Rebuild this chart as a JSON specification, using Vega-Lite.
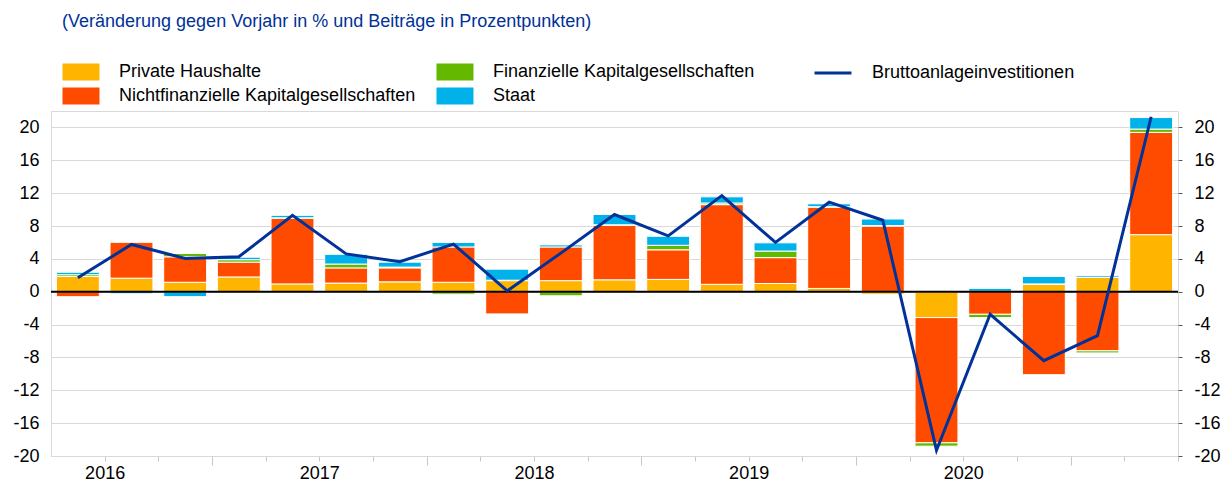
{
  "$schema": "https://vega.github.io/schema/vega-lite/v6.json",
  "width": 1127,
  "height": 345,
  "autosize": {"type": "none"},
  "padding": {"left": 51, "top": 111, "right": 48, "bottom": 25},
  "background": "white",
  "config": {
    "font": "Liberation Sans",
    "view": {"stroke": "#d9d9d9", "strokeWidth": 1},
    "axis": {"labelFont": "Liberation Sans", "labelFontSize": 18, "labelColor": "#000000"},
    "legend": {"labelFont": "Liberation Sans", "labelFontSize": 18, "labelColor": "#000000", "labelLimit": 0}
  },
  "title": {
    "text": "(Veränderung gegen Vorjahr in % und Beiträge in Prozentpunkten)",
    "anchor": "start",
    "frame": "group",
    "font": "Liberation Sans",
    "fontSize": 18,
    "fontWeight": "normal",
    "color": "#003299",
    "dx": 11,
    "offset": 32
  },
  "datasets": {
    "bars": [
      {"q": "2016 Q2", "cat": "Private Haushalte", "v": 1.85},
      {"q": "2016 Q2", "cat": "Nichtfinanzielle Kapitalgesellschaften", "v": -0.6},
      {"q": "2016 Q2", "cat": "Finanzielle Kapitalgesellschaften", "v": 0.22},
      {"q": "2016 Q2", "cat": "Staat", "v": 0.3},
      {"q": "2016 Q3", "cat": "Private Haushalte", "v": 1.65},
      {"q": "2016 Q3", "cat": "Nichtfinanzielle Kapitalgesellschaften", "v": 4.4},
      {"q": "2016 Q3", "cat": "Finanzielle Kapitalgesellschaften", "v": 0.0},
      {"q": "2016 Q3", "cat": "Staat", "v": -0.25},
      {"q": "2016 Q4", "cat": "Private Haushalte", "v": 1.15},
      {"q": "2016 Q4", "cat": "Nichtfinanzielle Kapitalgesellschaften", "v": 3.1},
      {"q": "2016 Q4", "cat": "Finanzielle Kapitalgesellschaften", "v": 0.4},
      {"q": "2016 Q4", "cat": "Staat", "v": -0.6},
      {"q": "2017 Q1", "cat": "Private Haushalte", "v": 1.8},
      {"q": "2017 Q1", "cat": "Nichtfinanzielle Kapitalgesellschaften", "v": 1.8},
      {"q": "2017 Q1", "cat": "Finanzielle Kapitalgesellschaften", "v": 0.3},
      {"q": "2017 Q1", "cat": "Staat", "v": 0.3},
      {"q": "2017 Q2", "cat": "Private Haushalte", "v": 0.95},
      {"q": "2017 Q2", "cat": "Nichtfinanzielle Kapitalgesellschaften", "v": 8.0},
      {"q": "2017 Q2", "cat": "Finanzielle Kapitalgesellschaften", "v": 0.05},
      {"q": "2017 Q2", "cat": "Staat", "v": 0.3},
      {"q": "2017 Q3", "cat": "Private Haushalte", "v": 1.05},
      {"q": "2017 Q3", "cat": "Nichtfinanzielle Kapitalgesellschaften", "v": 1.85},
      {"q": "2017 Q3", "cat": "Finanzielle Kapitalgesellschaften", "v": 0.47},
      {"q": "2017 Q3", "cat": "Staat", "v": 1.18},
      {"q": "2017 Q4", "cat": "Private Haushalte", "v": 1.2},
      {"q": "2017 Q4", "cat": "Nichtfinanzielle Kapitalgesellschaften", "v": 1.7},
      {"q": "2017 Q4", "cat": "Finanzielle Kapitalgesellschaften", "v": 0.1},
      {"q": "2017 Q4", "cat": "Staat", "v": 0.6},
      {"q": "2018 Q1", "cat": "Private Haushalte", "v": 1.15},
      {"q": "2018 Q1", "cat": "Nichtfinanzielle Kapitalgesellschaften", "v": 4.3},
      {"q": "2018 Q1", "cat": "Finanzielle Kapitalgesellschaften", "v": -0.3},
      {"q": "2018 Q1", "cat": "Staat", "v": 0.55},
      {"q": "2018 Q2", "cat": "Private Haushalte", "v": 1.35},
      {"q": "2018 Q2", "cat": "Nichtfinanzielle Kapitalgesellschaften", "v": -2.7},
      {"q": "2018 Q2", "cat": "Finanzielle Kapitalgesellschaften", "v": 0.05},
      {"q": "2018 Q2", "cat": "Staat", "v": 1.35},
      {"q": "2018 Q3", "cat": "Private Haushalte", "v": 1.35},
      {"q": "2018 Q3", "cat": "Nichtfinanzielle Kapitalgesellschaften", "v": 4.1},
      {"q": "2018 Q3", "cat": "Finanzielle Kapitalgesellschaften", "v": -0.5},
      {"q": "2018 Q3", "cat": "Staat", "v": 0.25},
      {"q": "2018 Q4", "cat": "Private Haushalte", "v": 1.45},
      {"q": "2018 Q4", "cat": "Nichtfinanzielle Kapitalgesellschaften", "v": 6.65},
      {"q": "2018 Q4", "cat": "Finanzielle Kapitalgesellschaften", "v": 0.05},
      {"q": "2018 Q4", "cat": "Staat", "v": 1.25},
      {"q": "2019 Q1", "cat": "Private Haushalte", "v": 1.5},
      {"q": "2019 Q1", "cat": "Nichtfinanzielle Kapitalgesellschaften", "v": 3.6},
      {"q": "2019 Q1", "cat": "Finanzielle Kapitalgesellschaften", "v": 0.55},
      {"q": "2019 Q1", "cat": "Staat", "v": 1.1},
      {"q": "2019 Q2", "cat": "Private Haushalte", "v": 0.9},
      {"q": "2019 Q2", "cat": "Nichtfinanzielle Kapitalgesellschaften", "v": 9.7},
      {"q": "2019 Q2", "cat": "Finanzielle Kapitalgesellschaften", "v": 0.2},
      {"q": "2019 Q2", "cat": "Staat", "v": 0.75},
      {"q": "2019 Q3", "cat": "Private Haushalte", "v": 1.0},
      {"q": "2019 Q3", "cat": "Nichtfinanzielle Kapitalgesellschaften", "v": 3.15},
      {"q": "2019 Q3", "cat": "Finanzielle Kapitalgesellschaften", "v": 0.8},
      {"q": "2019 Q3", "cat": "Staat", "v": 1.0},
      {"q": "2019 Q4", "cat": "Private Haushalte", "v": 0.4},
      {"q": "2019 Q4", "cat": "Nichtfinanzielle Kapitalgesellschaften", "v": 9.9},
      {"q": "2019 Q4", "cat": "Finanzielle Kapitalgesellschaften", "v": 0.05},
      {"q": "2019 Q4", "cat": "Staat", "v": 0.35},
      {"q": "2020 Q1", "cat": "Private Haushalte", "v": -0.3},
      {"q": "2020 Q1", "cat": "Nichtfinanzielle Kapitalgesellschaften", "v": 8.0},
      {"q": "2020 Q1", "cat": "Finanzielle Kapitalgesellschaften", "v": 0.05},
      {"q": "2020 Q1", "cat": "Staat", "v": 0.8},
      {"q": "2020 Q2", "cat": "Private Haushalte", "v": -3.15},
      {"q": "2020 Q2", "cat": "Nichtfinanzielle Kapitalgesellschaften", "v": -15.25},
      {"q": "2020 Q2", "cat": "Finanzielle Kapitalgesellschaften", "v": -0.4},
      {"q": "2020 Q2", "cat": "Staat", "v": 0.0},
      {"q": "2020 Q3", "cat": "Private Haushalte", "v": 0.05},
      {"q": "2020 Q3", "cat": "Nichtfinanzielle Kapitalgesellschaften", "v": -2.75},
      {"q": "2020 Q3", "cat": "Finanzielle Kapitalgesellschaften", "v": -0.4},
      {"q": "2020 Q3", "cat": "Staat", "v": 0.35},
      {"q": "2020 Q4", "cat": "Private Haushalte", "v": 0.9},
      {"q": "2020 Q4", "cat": "Nichtfinanzielle Kapitalgesellschaften", "v": -10.1},
      {"q": "2020 Q4", "cat": "Finanzielle Kapitalgesellschaften", "v": 0.05},
      {"q": "2020 Q4", "cat": "Staat", "v": 0.9},
      {"q": "2021 Q1", "cat": "Private Haushalte", "v": 1.75},
      {"q": "2021 Q1", "cat": "Nichtfinanzielle Kapitalgesellschaften", "v": -7.2},
      {"q": "2021 Q1", "cat": "Finanzielle Kapitalgesellschaften", "v": -0.25},
      {"q": "2021 Q1", "cat": "Staat", "v": 0.2},
      {"q": "2021 Q2", "cat": "Private Haushalte", "v": 6.95},
      {"q": "2021 Q2", "cat": "Nichtfinanzielle Kapitalgesellschaften", "v": 12.45},
      {"q": "2021 Q2", "cat": "Finanzielle Kapitalgesellschaften", "v": 0.4},
      {"q": "2021 Q2", "cat": "Staat", "v": 1.4}
    ],
    "line": [
      {"q": "2016 Q2", "total": 1.7},
      {"q": "2016 Q3", "total": 5.75},
      {"q": "2016 Q4", "total": 4.05},
      {"q": "2017 Q1", "total": 4.25},
      {"q": "2017 Q2", "total": 9.3},
      {"q": "2017 Q3", "total": 4.6},
      {"q": "2017 Q4", "total": 3.65},
      {"q": "2018 Q1", "total": 5.8},
      {"q": "2018 Q2", "total": 0.1},
      {"q": "2018 Q3", "total": 4.7},
      {"q": "2018 Q4", "total": 9.4},
      {"q": "2019 Q1", "total": 6.8},
      {"q": "2019 Q2", "total": 11.7},
      {"q": "2019 Q3", "total": 6.0},
      {"q": "2019 Q4", "total": 10.9},
      {"q": "2020 Q1", "total": 8.7},
      {"q": "2020 Q2", "total": -19.3},
      {"q": "2020 Q3", "total": -2.75},
      {"q": "2020 Q4", "total": -8.4},
      {"q": "2021 Q1", "total": -5.35},
      {"q": "2021 Q2", "total": 21.3}
    ]
  },
  "layer": [
    {
      "data": {"name": "bars"},
      "transform": [
        {"calculate": "indexof(['Private Haushalte','Nichtfinanzielle Kapitalgesellschaften','Finanzielle Kapitalgesellschaften','Staat'], datum.cat)", "as": "ord"}
      ],
      "mark": {"type": "bar", "stroke": "white", "strokeWidth": 1},
      "encoding": {
        "x": {
          "field": "q", "type": "ordinal", "sort": null,
          "scale": {"type": "band", "paddingInner": 0.2, "paddingOuter": 0.1},
          "axis": {
            "orient": "bottom", "title": null, "tickSize": 5, "tickOffset": 26.8,
            "tickColor": "#c8c8c8", "domainColor": "#d9d9d9", "labelAngle": 0,
            "labelOverlap": false, "labelPadding": 3, "grid": false,
            "labelExpr": "slice(datum.value, 5) == 'Q2' && datum.value != '2021 Q2' ? slice(datum.value, 0, 4) : ''"
          }
        },
        "y": {
          "field": "v", "type": "quantitative", "stack": "zero",
          "scale": {"domain": [-20, 22], "nice": false, "zero": false},
          "axis": {
            "orient": "left", "title": null, "values": [-20, -16, -12, -8, -4, 0, 4, 8, 12, 16, 20],
            "grid": true, "gridColor": "#d9d9d9", "gridWidth": 1, "ticks": false, "domain": false, "labelPadding": 12,
            "labelOverlap": false,
            "labelExpr": "datum.value < 0 ? '-' + abs(datum.value) : '' + datum.value"
          }
        },
        "color": {
          "field": "cat", "type": "nominal",
          "scale": {
            "domain": ["Private Haushalte", "Nichtfinanzielle Kapitalgesellschaften", "Finanzielle Kapitalgesellschaften", "Staat"],
            "range": ["#FFB400", "#FF4B00", "#65B800", "#00B1EA"]
          },
          "legend": {
            "orient": "none", "legendX": 11, "legendY": -48, "columns": 2, "title": null,
            "symbolType": "M-1,-1H3.35V1H-1Z", "symbolSize": 289, "symbolStrokeWidth": 0,
            "labelOffset": 39, "columnPadding": 20, "rowPadding": 6, "labelLimit": 0
          }
        },
        "order": {"field": "ord", "type": "quantitative"}
      }
    },
    {
      "data": {"values": [{"z": 0}]},
      "mark": {"type": "rule", "color": "#000000", "strokeWidth": 2},
      "encoding": {"y": {"field": "z", "type": "quantitative", "axis": null}}
    },
    {
      "data": {"name": "line"},
      "mark": {"type": "line", "strokeWidth": 3},
      "encoding": {
        "x": {
          "field": "q", "type": "ordinal", "sort": null,
          "axis": {
            "orient": "bottom", "title": null, "values": ["2016 Q4", "2017 Q4", "2018 Q4", "2019 Q4", "2020 Q4"],
            "tickOffset": 26.8, "tickSize": 9, "tickColor": "#c8c8c8",
            "labels": false, "domain": false, "grid": false
          }
        },
        "y": {
          "field": "total", "type": "quantitative",
          "axis": {
            "orient": "right", "title": null, "values": [-20, -16, -12, -8, -4, 0, 4, 8, 12, 16, 20],
            "grid": false, "ticks": true, "tickSize": 4, "tickColor": "#555555", "domain": false, "labelPadding": 12,
            "labelOverlap": false,
            "labelExpr": "datum.value < 0 ? '-' + abs(datum.value) : '' + datum.value"
          }
        },
        "stroke": {
          "datum": "Bruttoanlageinvestitionen", "type": "nominal",
          "scale": {"range": ["#003299"]},
          "legend": {
            "orient": "none", "legendX": 762, "legendY": -48, "title": null,
            "symbolType": "M-1,0H3.35", "symbolSize": 289, "symbolStrokeWidth": 3,
            "labelOffset": 39, "labelLimit": 0
          }
        }
      }
    }
  ],
  "resolve": {"axis": {"x": "independent", "y": "independent"}}
}
